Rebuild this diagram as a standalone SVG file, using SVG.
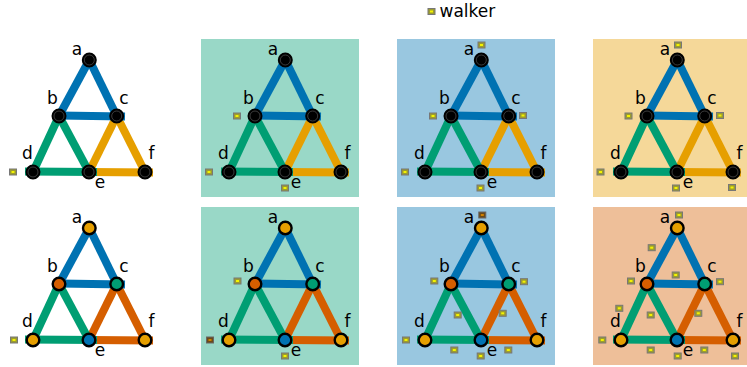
<svg xmlns="http://www.w3.org/2000/svg" xmlns:xlink="http://www.w3.org/1999/xlink" width="747" height="367" viewBox="0 0 747 367">
<style>
text{font-family:"DejaVu Sans",sans-serif;font-size:17px;fill:#000}
.lb{text-anchor:middle}
.e{stroke-width:8;fill:none;stroke-linecap:butt}
.bl{stroke:#0072B2}.gr{stroke:#009E73}.or{stroke:#E69F00}.ve{stroke:#D55E00}
.nt{fill:#000;stroke:#000;stroke-width:2.4}
.ring{fill:none;stroke:#555;stroke-width:0.7}
.nb{stroke:#000;stroke-width:2.4}
.fo{fill:#E69F00}.fv{fill:#D55E00}.fg{fill:#009E73}.fb{fill:#0072B2}
</style>
<defs>
<g id="w"><rect x="-3.5" y="-3" width="7" height="6" fill="#9c9c30" stroke="#777" stroke-width="1"/><rect x="-1.5" y="-1" width="3" height="2" fill="#f4f400"/></g>
<g id="wd"><rect x="-3.5" y="-3" width="7" height="6" fill="#6a4a18" stroke="#666" stroke-width="1"/><rect x="-1.5" y="-1" width="3" height="2" fill="#d08000"/></g>
<g id="edT">
<line class="e or" x1="111.7" y1="77" x2="84" y2="133"/>
<line class="e or" x1="111.7" y1="77" x2="140" y2="133"/>
<line class="e or" x1="84" y1="133" x2="148" y2="133.5"/>
<line class="e gr" x1="54" y1="77" x2="28" y2="133"/>
<line class="e gr" x1="54" y1="77" x2="84" y2="133"/>
<line class="e gr" x1="20" y1="132.5" x2="92" y2="133"/>
<line class="e bl" x1="84.3" y1="21" x2="54" y2="77"/>
<line class="e bl" x1="84.3" y1="21" x2="111.7" y2="77"/>
<line class="e bl" x1="54" y1="76.5" x2="120" y2="77.5"/>
</g>
<g id="edB">
<line class="e ve" x1="111.7" y1="77" x2="84" y2="133"/>
<line class="e ve" x1="111.7" y1="77" x2="140" y2="133"/>
<line class="e ve" x1="84" y1="133" x2="148" y2="133.5"/>
<line class="e gr" x1="54" y1="77" x2="28" y2="133"/>
<line class="e gr" x1="54" y1="77" x2="84" y2="133"/>
<line class="e gr" x1="20" y1="132.5" x2="92" y2="133"/>
<line class="e bl" x1="84.3" y1="21" x2="54" y2="77"/>
<line class="e bl" x1="84.3" y1="21" x2="111.7" y2="77"/>
<line class="e bl" x1="54" y1="76.5" x2="120" y2="77.5"/>
</g>
<g id="lbls">
<text class="lb" x="72" y="16">a</text>
<text class="lb" x="47.5" y="65">b</text>
<text class="lb" x="119" y="65">c</text>
<text class="lb" x="22.5" y="120">d</text>
<text class="lb" x="146.5" y="120">f</text>
<text class="lb" x="95" y="149">e</text>
</g>
</defs>

<g id="legend">
<use xlink:href="#w" x="431.5" y="11.5"/>
<text x="439.5" y="17">walker</text>
</g>

<g id="bg">
<rect x="201" y="39" width="158" height="158" fill="#99D8C7"/>
<rect x="397" y="39" width="158" height="158" fill="#99C7E0"/>
<rect x="593" y="39" width="158" height="158" fill="#F5D899"/>
<rect x="201" y="207" width="158" height="158" fill="#99D8C7"/>
<rect x="397" y="207" width="158" height="158" fill="#99C7E0"/>
<rect x="593" y="207" width="158" height="158" fill="#EEBF99"/>
</g>

<!-- top row -->
<g transform="translate(5,39)">
<g id="t1-edges"><use xlink:href="#edT"/></g>
<g id="t1-a"><circle class="nt" cx="84.3" cy="21" r="6.3"/><circle class="ring" cx="84.3" cy="21" r="5"/></g>
<g id="t1-b"><circle class="nt" cx="54" cy="77" r="6.3"/><circle class="ring" cx="54" cy="77" r="5"/></g>
<g id="t1-c"><circle class="nt" cx="111.7" cy="77" r="6.3"/><circle class="ring" cx="111.7" cy="77" r="5"/></g>
<g id="t1-d"><circle class="nt" cx="28" cy="133" r="6.3"/><circle class="ring" cx="28" cy="133" r="5"/></g>
<g id="t1-e"><circle class="nt" cx="84" cy="133" r="6.3"/><circle class="ring" cx="84" cy="133" r="5"/></g>
<g id="t1-f"><circle class="nt" cx="140" cy="133" r="6.3"/><circle class="ring" cx="140" cy="133" r="5"/></g>
<use xlink:href="#lbls"/>
<g id="t1-walkers"><use xlink:href="#w" x="8" y="133"/></g>
</g>

<g transform="translate(201,39)">
<g id="t2-edges"><use xlink:href="#edT"/></g>
<g id="t2-a"><circle class="nt" cx="84.3" cy="21" r="6.3"/><circle class="ring" cx="84.3" cy="21" r="5"/></g>
<g id="t2-b"><circle class="nt" cx="54" cy="77" r="6.3"/><circle class="ring" cx="54" cy="77" r="5"/></g>
<g id="t2-c"><circle class="nt" cx="111.7" cy="77" r="6.3"/><circle class="ring" cx="111.7" cy="77" r="5"/></g>
<g id="t2-d"><circle class="nt" cx="28" cy="133" r="6.3"/><circle class="ring" cx="28" cy="133" r="5"/></g>
<g id="t2-e"><circle class="nt" cx="84" cy="133" r="6.3"/><circle class="ring" cx="84" cy="133" r="5"/></g>
<g id="t2-f"><circle class="nt" cx="140" cy="133" r="6.3"/><circle class="ring" cx="140" cy="133" r="5"/></g>
<use xlink:href="#lbls"/>
<g id="t2-walkers"><use xlink:href="#w" x="36" y="77"/><use xlink:href="#w" x="8" y="133"/><use xlink:href="#w" x="84" y="149"/></g>
</g>

<g transform="translate(397,39)">
<g id="t3-edges"><use xlink:href="#edT"/></g>
<g id="t3-a"><circle class="nt" cx="84.3" cy="21" r="6.3"/><circle class="ring" cx="84.3" cy="21" r="5"/></g>
<g id="t3-b"><circle class="nt" cx="54" cy="77" r="6.3"/><circle class="ring" cx="54" cy="77" r="5"/></g>
<g id="t3-c"><circle class="nt" cx="111.7" cy="77" r="6.3"/><circle class="ring" cx="111.7" cy="77" r="5"/></g>
<g id="t3-d"><circle class="nt" cx="28" cy="133" r="6.3"/><circle class="ring" cx="28" cy="133" r="5"/></g>
<g id="t3-e"><circle class="nt" cx="84" cy="133" r="6.3"/><circle class="ring" cx="84" cy="133" r="5"/></g>
<g id="t3-f"><circle class="nt" cx="140" cy="133" r="6.3"/><circle class="ring" cx="140" cy="133" r="5"/></g>
<use xlink:href="#lbls"/>
<g id="t3-walkers"><use xlink:href="#w" x="84.5" y="6"/><use xlink:href="#w" x="36" y="77"/><use xlink:href="#w" x="126" y="76.5"/><use xlink:href="#w" x="8" y="133"/><use xlink:href="#w" x="83.5" y="149"/></g>
</g>

<g transform="translate(593,39)">
<g id="t4-edges"><use xlink:href="#edT"/></g>
<g id="t4-a"><circle class="nt" cx="84.3" cy="21" r="6.3"/><circle class="ring" cx="84.3" cy="21" r="5"/></g>
<g id="t4-b"><circle class="nt" cx="54" cy="77" r="6.3"/><circle class="ring" cx="54" cy="77" r="5"/></g>
<g id="t4-c"><circle class="nt" cx="111.7" cy="77" r="6.3"/><circle class="ring" cx="111.7" cy="77" r="5"/></g>
<g id="t4-d"><circle class="nt" cx="28" cy="133" r="6.3"/><circle class="ring" cx="28" cy="133" r="5"/></g>
<g id="t4-e"><circle class="nt" cx="84" cy="133" r="6.3"/><circle class="ring" cx="84" cy="133" r="5"/></g>
<g id="t4-f"><circle class="nt" cx="140" cy="133" r="6.3"/><circle class="ring" cx="140" cy="133" r="5"/></g>
<use xlink:href="#lbls"/>
<g id="t4-walkers"><use xlink:href="#w" x="85" y="6"/><use xlink:href="#w" x="35.5" y="77"/><use xlink:href="#w" x="127" y="76.5"/><use xlink:href="#w" x="7.5" y="133"/><use xlink:href="#w" x="83" y="149"/><use xlink:href="#w" x="139" y="148.5"/></g>
</g>

<!-- bottom row -->
<g transform="translate(5,207)">
<g id="b1-edges"><use xlink:href="#edB"/></g>
<g id="b1-a"><circle class="nb fo" cx="84.3" cy="21" r="6.3"/></g>
<g id="b1-b"><circle class="nb fv" cx="54" cy="77" r="6.3"/></g>
<g id="b1-c"><circle class="nb fg" cx="111.7" cy="77" r="6.3"/></g>
<g id="b1-d"><circle class="nb fo" cx="28" cy="133" r="6.3"/></g>
<g id="b1-e"><circle class="nb fb" cx="84" cy="133" r="6.3"/></g>
<g id="b1-f"><circle class="nb fo" cx="140" cy="133" r="6.3"/></g>
<use xlink:href="#lbls"/>
<g id="b1-walkers"><use xlink:href="#w" x="9" y="133"/></g>
</g>

<g transform="translate(201,207)">
<g id="b2-edges"><use xlink:href="#edB"/></g>
<g id="b2-a"><circle class="nb fo" cx="84.3" cy="21" r="6.3"/></g>
<g id="b2-b"><circle class="nb fv" cx="54" cy="77" r="6.3"/></g>
<g id="b2-c"><circle class="nb fg" cx="111.7" cy="77" r="6.3"/></g>
<g id="b2-d"><circle class="nb fo" cx="28" cy="133" r="6.3"/></g>
<g id="b2-e"><circle class="nb fb" cx="84" cy="133" r="6.3"/></g>
<g id="b2-f"><circle class="nb fo" cx="140" cy="133" r="6.3"/></g>
<use xlink:href="#lbls"/>
<g id="b2-walkers"><use xlink:href="#w" x="36.5" y="74"/><use xlink:href="#wd" x="9" y="133"/><use xlink:href="#w" x="84" y="149"/></g>
</g>

<g transform="translate(397,207)">
<g id="b3-edges"><use xlink:href="#edB"/></g>
<g id="b3-a"><circle class="nb fo" cx="84.3" cy="21" r="6.3"/></g>
<g id="b3-b"><circle class="nb fv" cx="54" cy="77" r="6.3"/></g>
<g id="b3-c"><circle class="nb fg" cx="111.7" cy="77" r="6.3"/></g>
<g id="b3-d"><circle class="nb fo" cx="28" cy="133" r="6.3"/></g>
<g id="b3-e"><circle class="nb fb" cx="84" cy="133" r="6.3"/></g>
<g id="b3-f"><circle class="nb fo" cx="140" cy="133" r="6.3"/></g>
<use xlink:href="#lbls"/>
<g id="b3-walkers"><use xlink:href="#wd" x="85.3" y="8"/><use xlink:href="#w" x="37.3" y="74"/><use xlink:href="#w" x="127" y="74.7"/><use xlink:href="#w" x="9" y="133"/><use xlink:href="#w" x="83.7" y="149"/><use xlink:href="#w" x="60.7" y="108"/><use xlink:href="#w" x="105.7" y="106.3"/><use xlink:href="#w" x="57.3" y="143"/><use xlink:href="#w" x="111.3" y="143"/></g>
</g>

<g transform="translate(593,207)">
<g id="b4-edges"><use xlink:href="#edB"/></g>
<g id="b4-a"><circle class="nb fo" cx="84.3" cy="21" r="6.3"/></g>
<g id="b4-b"><circle class="nb fv" cx="54" cy="77" r="6.3"/></g>
<g id="b4-c"><circle class="nb fg" cx="111.7" cy="77" r="6.3"/></g>
<g id="b4-d"><circle class="nb fo" cx="28" cy="133" r="6.3"/></g>
<g id="b4-e"><circle class="nb fb" cx="84" cy="133" r="6.3"/></g>
<g id="b4-f"><circle class="nb fo" cx="140" cy="133" r="6.3"/></g>
<use xlink:href="#lbls"/>
<g id="b4-walkers"><use xlink:href="#w" x="86" y="8"/><use xlink:href="#w" x="58.7" y="40.7"/><use xlink:href="#w" x="82.7" y="68"/><use xlink:href="#w" x="38" y="74"/><use xlink:href="#w" x="127" y="74.7"/><use xlink:href="#w" x="26.3" y="101.3"/><use xlink:href="#w" x="57.7" y="108"/><use xlink:href="#w" x="105.3" y="106.3"/><use xlink:href="#w" x="9.3" y="133"/><use xlink:href="#w" x="57.7" y="143"/><use xlink:href="#w" x="84.7" y="149"/><use xlink:href="#w" x="111.3" y="143"/><use xlink:href="#w" x="142" y="149"/></g>
</g>
</svg>
